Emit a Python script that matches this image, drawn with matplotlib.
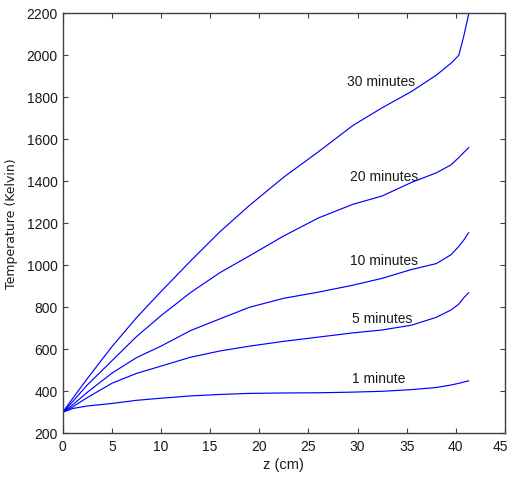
import matplotlib
matplotlib.use("Agg")
import matplotlib.pyplot as plt
from matplotlib.transforms import ScaledTranslation

# position along z (cm)
z = [0, 1, 2.5, 5, 7.5, 10, 13, 16, 19, 22.5, 26, 29.5, 32.5, 35.5, 38, 39.5, 40.3, 40.8, 41.3]

# temperatures (Kelvin)
t_1min = [300, 318, 330, 342, 357, 367, 378, 385, 390, 392, 393, 396, 400, 408, 418, 430, 438, 444, 450]
t_5min = [300, 325, 370, 438, 485, 520, 562, 592, 615, 638, 658, 678, 692, 715, 752, 787, 815, 845, 869]
t_10min = [300, 335, 395, 486, 560, 615, 689, 745, 800, 843, 872, 905, 938, 980, 1008, 1050, 1090, 1120, 1155]
t_20min = [300, 350, 430, 545, 660, 760, 870, 965, 1045, 1140, 1225, 1290, 1330, 1395, 1440, 1478, 1513, 1537, 1560]
t_30min = [300, 365, 460, 612, 750, 875, 1020, 1160, 1285, 1420, 1540, 1665, 1750, 1828, 1905, 1962, 2000, 2090, 2195]

series = [t_1min, t_5min, t_10min, t_20min, t_30min]
labels = ["1 minute", "5 minutes", "10 minutes", "20 minutes", "30 minutes"]
label_x = [32.2, 32.5, 32.7, 32.7, 32.4]
label_y = [458, 744, 1022, 1422, 1871]

xticks = [0, 5, 10, 15, 20, 25, 30, 35, 40, 45]
yticks = [200, 400, 600, 800, 1000, 1200, 1400, 1600, 1800, 2000, 2200]

font = ["Liberation Sans", "DejaVu Sans"]
textcol = "#1a1a1a"

fig = plt.figure(figsize=(5.10, 4.83), dpi=100)
ax = fig.add_axes([0.1229, 0.1029, 0.8673, 0.8696])

for s in series:
    ax.plot(z, s, color="#0000ff", linewidth=0.85)

for lab, lx, ly in zip(labels, label_x, label_y):
    ax.text(lx, ly, lab, ha="center", va="center", fontsize=10,
            family=font, color=textcol)

ax.set_xlim(0, 45)
ax.set_ylim(200, 2200)
ax.set_xticks(xticks)
ax.set_yticks(yticks)
ax.set_xticklabels([str(v) for v in xticks], family=font, fontsize=10, color=textcol)
ax.set_yticklabels([str(v) for v in yticks], family=font, fontsize=10, color=textcol)
ax.tick_params(direction="in", length=3.6, width=0.8, color="#404040",
               top=True, right=True)
ax.tick_params(axis="x", pad=5)
ax.tick_params(axis="y", pad=3.5)
for sp in ax.spines.values():
    sp.set_color("#404040")
    sp.set_linewidth(1.0)

# keep the last x tick label inside the figure
last = ax.get_xticklabels()[-1]
last.set_transform(last.get_transform() + ScaledTranslation(-3.5 / 72, 0, fig.dpi_scale_trans))

ax.set_xlabel("z (cm)", family=font, fontsize=10.5, color=textcol)
ax.xaxis.set_label_coords(0.5, -0.059)
ax.set_ylabel("Temperature (Kelvin)", family=["DejaVu Sans"], fontsize=9, color=textcol)
ax.yaxis.set_label_coords(-0.101, 0.5)

fig.savefig("out.png", dpi=100)
